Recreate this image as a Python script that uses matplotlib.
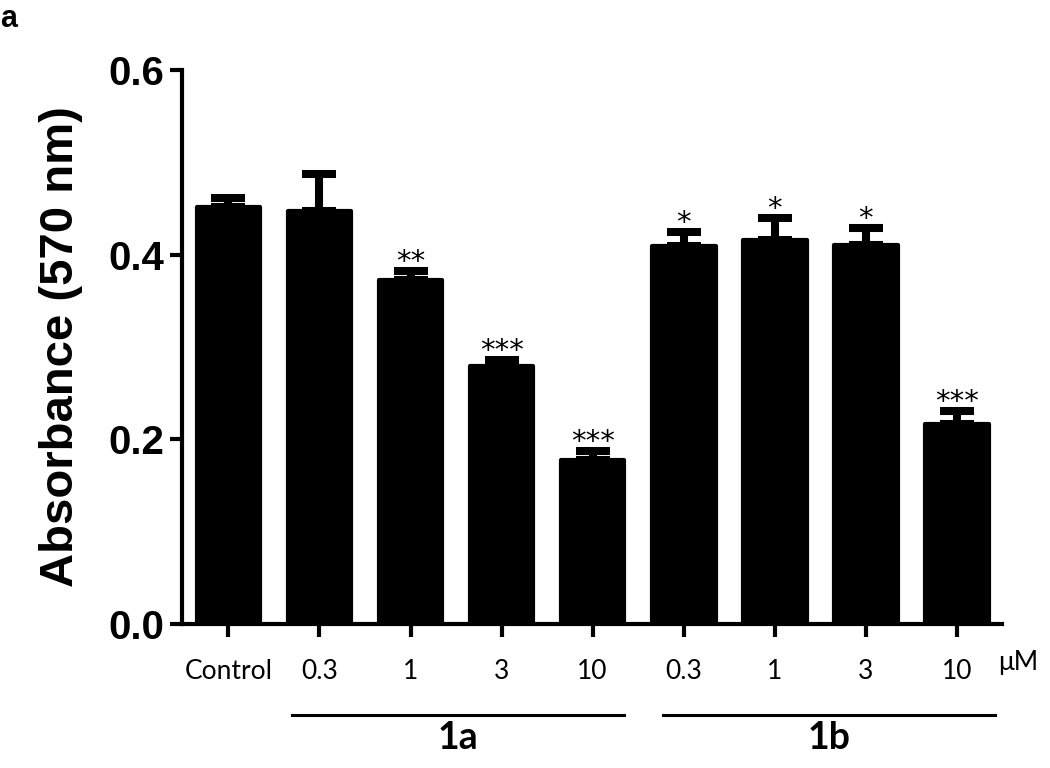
import matplotlib
matplotlib.use('Agg')
import matplotlib.pyplot as plt
import numpy as np

# данные
labels = ['Control', '0.3', '1', '3', '10', '0.3', '1', '3', '10']
values = [0.4516, 0.4473, 0.3726, 0.2794, 0.1776, 0.4094, 0.4160, 0.4105, 0.2163]
errors = [0.0100, 0.0395, 0.0097, 0.0060, 0.0098, 0.0152, 0.0237, 0.0184, 0.0139]
stars = ['', '', '**', '***', '***', '*', '*', '*', '***']
groups = ['1a', '1b']
group_span = [(0.70, 4.34), (4.77, 8.42)]

fig = plt.figure(figsize=(10.5, 7.68), dpi=100)
ax = fig.add_axes([0.1733, 0.1875, 0.7813, 0.7214])

x = np.arange(len(values))
ax.bar(x, values, width=0.70, color='black', edgecolor='black',
       linewidth=3, joinstyle='round', zorder=2)
ax.errorbar(x, values, yerr=[np.zeros(len(errors)), errors], fmt='none',
            ecolor='black', elinewidth=5.8, capsize=12.5, capthick=5.8, zorder=1)

# звездочки значимости
for xi, v, e, s in zip(x, values, errors, stars):
    if s:
        ax.annotate(s, xy=(xi, v + e), xytext=(0, 1), textcoords='offset points',
                    ha='center', va='baseline', fontsize=21, family='DejaVu Sans')

ax.set_xlim(-0.51, 8.5)
ax.set_ylim(0, 0.6)
ax.set_yticks([0.0, 0.2, 0.4, 0.6])
ax.set_yticklabels(['0.0', '0.2', '0.4', '0.6'], fontsize=29, fontweight='bold',
                   family='Liberation Sans')
ax.set_xticks(x)
ax.set_xticklabels(labels, fontsize=19, family='Lato')
ax.tick_params(axis='y', length=9, width=3, pad=4)
ax.tick_params(axis='x', length=9, width=3, pad=16)

for side in ['top', 'right']:
    ax.spines[side].set_visible(False)
for side in ['left', 'bottom']:
    ax.spines[side].set_linewidth(3)

ax.set_ylabel('Absorbance (570 nm)', fontsize=34, fontweight='bold',
              family='Liberation Sans', labelpad=18)

# подписи групп
trans = ax.get_xaxis_transform()
for name, (x0, x1) in zip(groups, group_span):
    ax.plot([x0, x1], [-0.165, -0.165], color='black', lw=2.2,
            transform=trans, clip_on=False)
    ax.text((x0 + x1) / 2, -0.205, name, transform=trans, ha='center', va='center',
            fontsize=27, fontweight='bold', family='Lato')

ax.text(8.45, -0.07, 'μM', transform=trans, ha='left', va='center',
        fontsize=19, family='Lato')
fig.text(0.0, 0.995, 'a', ha='left', va='top', fontsize=22, fontweight='bold',
         family='Liberation Sans')

fig.savefig('out.png', dpi=100)
plt.close(fig)
